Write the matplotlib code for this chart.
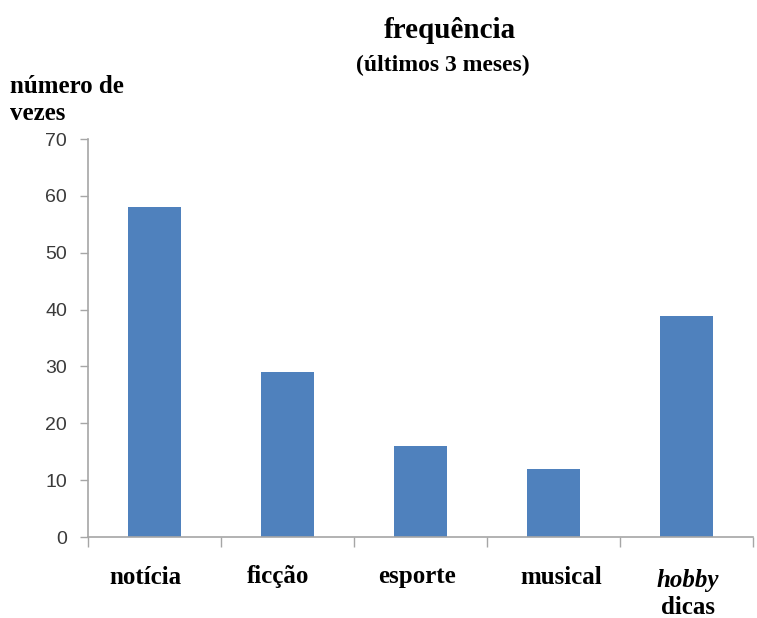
import matplotlib.pyplot as plt
import matplotlib.transforms as mtransforms
import numpy as np

categorias = ["notícia", "ficção", "esporte", "musical", "hobby"]
segunda_linha = ["", "", "", "", "dicas"]
valores = [58, 29, 16, 12, 38.8]
yticks = [0, 10, 20, 30, 40, 50, 60, 70]

cor_barra = "#4f81bd"
cor_eixo = "#a6a6a6"
serif = "Liberation Serif"
# small horizontal nudges of the category labels (fraction of a category)
desloc = [-0.07, -0.07, -0.03, 0.06, 0.01]

fig = plt.figure(figsize=(7.57, 6.18), dpi=100)
ax = fig.add_axes([88 / 757, 81 / 618, 665 / 757, 398 / 618])

x = np.arange(len(categorias))
ax.bar(x, valores, width=0.4, color=cor_barra, zorder=2)

ax.set_xlim(-0.5, len(categorias) - 0.5)
ax.set_ylim(0, 70)

ax.set_yticks(yticks)
ax.set_yticklabels([str(v) for v in yticks], fontsize=14, family="Liberation Sans", color="#3a3a3a")
ax.tick_params(axis="y", length=6, width=1, color=cor_eixo, pad=9)

# ticks in the x axis sit between categories (excel style)
ax.set_xticks(np.arange(-0.5, len(categorias), 1.0))
ax.set_xticklabels([])
ax.tick_params(axis="x", length=7, width=1, color=cor_eixo)

for s in ["top", "right"]:
    ax.spines[s].set_visible(False)
for s in ["left", "bottom"]:
    ax.spines[s].set_color(cor_eixo)
    ax.spines[s].set_linewidth(1.2)

trans = mtransforms.blended_transform_factory(ax.transData, fig.transFigure)
for i, (c, c2) in enumerate(zip(categorias, segunda_linha)):
    xp = i + desloc[i]
    if c2:
        ax.text(xp, 1 - 581 / 618, c, transform=trans, ha="center", va="center",
                fontsize=18, fontweight="bold", style="italic", family=serif)
        ax.text(xp, 1 - 608 / 618, c2, transform=trans, ha="center", va="center",
                fontsize=18, fontweight="bold", family=serif)
    else:
        ax.text(xp, 1 - 577 / 618, c, transform=trans, ha="center", va="center",
                fontsize=18, fontweight="bold", family=serif)

fig.text(450 / 757, 1 - 30 / 618, "frequência", ha="center", va="center",
         fontsize=21, fontweight="bold", family=serif)
fig.text(443 / 757, 1 - 65 / 618, "(últimos 3 meses)", ha="center", va="center",
         fontsize=17, fontweight="bold", family=serif)
fig.text(10 / 757, 1 - 100 / 618, "número de\nvezes", ha="left", va="center",
         fontsize=18, fontweight="bold", family=serif, linespacing=1.25)

fig.savefig("out.png", dpi=100)
